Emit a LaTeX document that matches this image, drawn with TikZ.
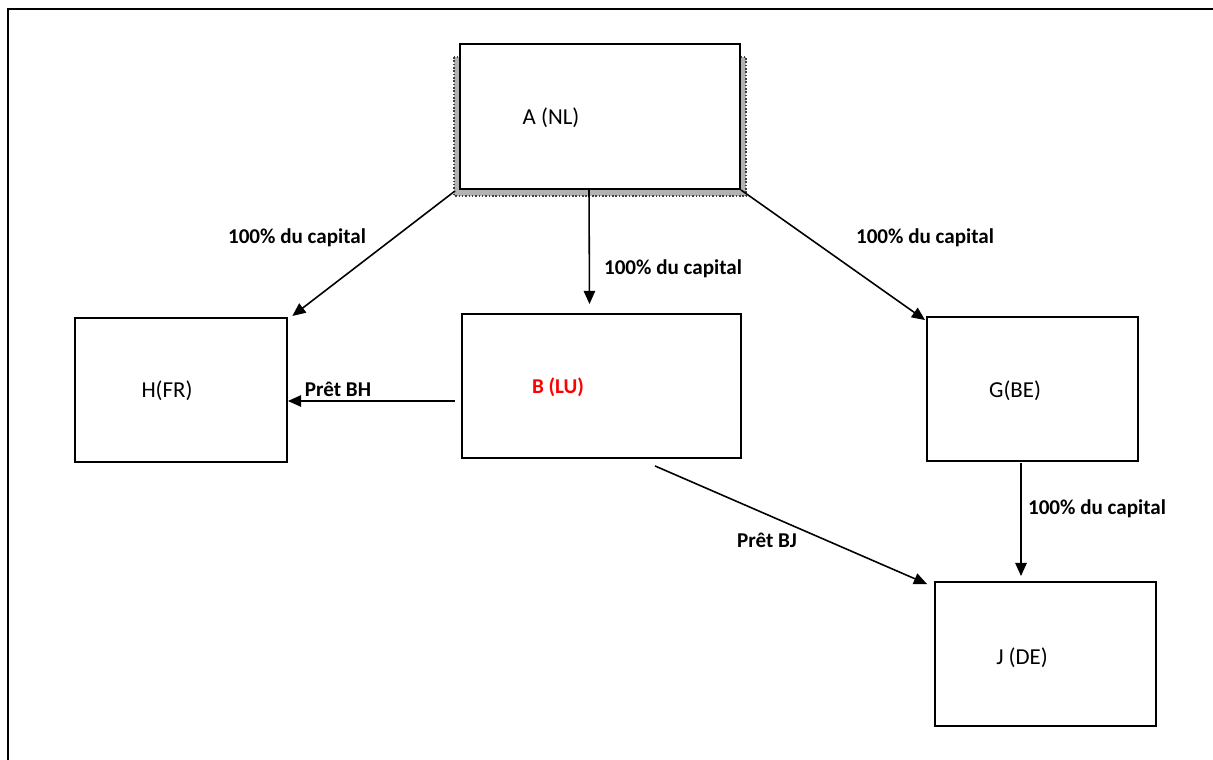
\documentclass[tikz,border=0pt]{standalone}
\usepackage{fontspec}
\setmainfont{Carlito}
\usetikzlibrary{arrows.meta,positioning,calc}

\begin{document}
\begin{tikzpicture}[x=0.02cm, y=-0.02cm,
    box/.style={draw, line width=1.1pt, fill=white, inner sep=0pt, minimum height=2.88cm},
    arr/.style={-{Triangle[length=7.5pt,width=6.5pt]}, line width=0.9pt},
    lbl/.style={font=\fontsize{12}{14}\selectfont\bfseries},
    coname/.style={font=\fontsize{13}{15}\selectfont}]
    \useasboundingbox (0,0) rectangle (1213,760);

    % 1. Frame (cut at right and bottom)
    \draw[line width=1.7pt] (1220,9) -- (8,9) -- (8,770);

    % 2. Boxes
    \fill[black!30] (454,57) rectangle (746,196);
    \draw[black!75, densely dotted, line width=0.9pt] (454,57) rectangle (746,196);
    \node[box, minimum width=5.6cm, minimum height=2.9cm] (A) at (600,116.5) {};
    \node[box, minimum width=4.24cm] (H) at (181,390) {};
    \node[box, minimum width=5.58cm] (B) at (601.5,386) {};
    \node[box, minimum width=4.22cm] (G) at (1032.5,389) {};
    \node[box, minimum width=4.42cm] (J) at (1045.5,654) {};

    % 3. Company names
    \node[coname] (Aname) at (551,118) {A (NL)};
    \node[coname] (Hname) at (167,391) {H(FR)};
    \node[lbl, red] (Bname) at (558,387) {B (LU)};
    \node[coname] (Gname) at (1015,391) {G(BE)};
    \node[coname] (Jname) at (1022,658) {J (DE)};

    % 4. Shareholdings
    \draw[arr, shorten >=1pt] ($(A.south west)+(-4,1)$) -- ($(H.north east)+(3,0)$);
    \draw[arr] ($(A.south)+(-11,0)$) -- ($(B.north)+(-12,-9)$);
    \draw[arr] (A.south east) -- ($(G.north west)+(-1,4)$);
    \draw[arr] ($(G.south)+(-11.5,1)$) -- ($(J.north)+(-24.5,-5)$);
    \node[lbl] (capH) at (297,238) {100\% du capital};
    \node[lbl] (capB) at (673,269) {100\% du capital};
    \node[lbl] (capG) at (925,238) {100\% du capital};
    \node[lbl] (capJ) at (1097,509) {100\% du capital};

    % 5. Loans
    \draw[arr] ($(B.west)+(-6,15)$) coordinate (bh) -- (bh -| H.east);
    \draw[arr] ($(B.south)+(53.5,7)$) -- ($(J.north west)+(-7,3)$);
    \node[lbl] (pretBH) at (338,389) {Prêt BH};
    \node[lbl] (pretBJ) at (767,540) {Prêt BJ};
\end{tikzpicture}
\end{document}
